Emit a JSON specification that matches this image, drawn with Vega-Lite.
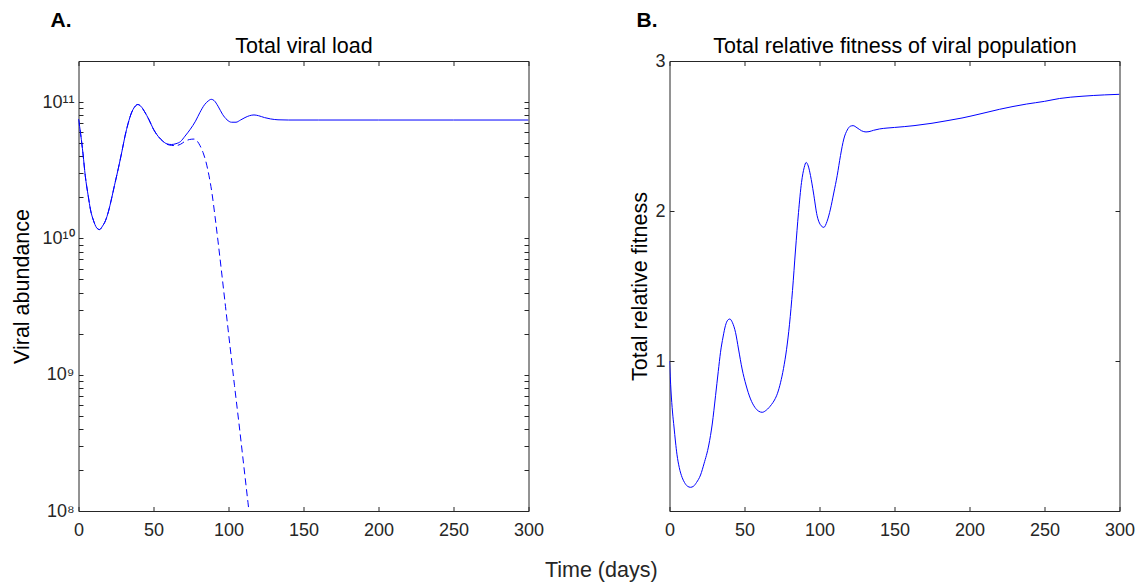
{
  "$schema": "https://vega.github.io/schema/vega-lite/v6.json",
  "padding": {"left": 11.5, "top": 9, "right": 6, "bottom": 2},
  "background": "white",
  "config": {
    "font": "Liberation Sans",
    "view": {"stroke": null},
    "axis": {"grid": false, "domainColor": "#262626", "tickColor": "#262626", "labelColor": "#262626", "titleColor": "#000000", "labelFont": "Liberation Sans", "titleFont": "Liberation Sans", "labelFontSize": 18, "titleFontSize": 21.5, "titleFontWeight": "normal", "tickSize": -4.5, "domainWidth": 1, "tickWidth": 1, "labelFlush": false, "labelOverlap": false},
    "axisX": {"labelPadding": 15},
    "axisY": {"labelPadding": 9},
    "title": {"font": "Liberation Sans", "color": "#000000"}
  },
  "title": {"text": "Time (days)", "orient": "bottom", "anchor": "middle", "fontSize": 21.5, "fontWeight": "normal", "color": "#262626", "dx": 28, "offset": 20},
  "spacing": 85,
  "datasets": {
    "load": [
      {"t": 0, "v": 7.5e10}, {"t": 1.5, "v": 5.75e10}, {"t": 3, "v": 4.17e10}, {"t": 4.5, "v": 2.88e10},
      {"t": 6.5, "v": 2.04e10}, {"t": 8, "v": 1.62e10}, {"t": 10, "v": 1.35e10}, {"t": 12, "v": 1.2e10},
      {"t": 14, "v": 1.16e10}, {"t": 16, "v": 1.23e10}, {"t": 18, "v": 1.35e10}, {"t": 20, "v": 1.58e10},
      {"t": 22, "v": 1.95e10}, {"t": 24, "v": 2.45e10}, {"t": 26.5, "v": 3.24e10}, {"t": 29, "v": 4.37e10},
      {"t": 31, "v": 5.62e10}, {"t": 33, "v": 6.92e10}, {"t": 35.3, "v": 8.32e10}, {"t": 37.5, "v": 9.23e10},
      {"t": 39.5, "v": 9.59e10}, {"t": 41.5, "v": 9.33e10}, {"t": 44, "v": 8.51e10}, {"t": 47, "v": 7.41e10},
      {"t": 50, "v": 6.31e10}, {"t": 53, "v": 5.62e10}, {"t": 56, "v": 5.19e10}, {"t": 59, "v": 4.93e10},
      {"t": 62, "v": 4.88e10}, {"t": 65, "v": 4.95e10}, {"t": 68, "v": 5.13e10}, {"t": 71, "v": 5.62e10},
      {"t": 74.5, "v": 6.31e10}, {"t": 78, "v": 7.24e10}, {"t": 81, "v": 8.41e10}, {"t": 84, "v": 9.55e10},
      {"t": 86.5, "v": 1.019e11}, {"t": 88.5, "v": 1.047e11}, {"t": 90.5, "v": 1.023e11}, {"t": 93, "v": 9.33e10},
      {"t": 96, "v": 8.13e10}, {"t": 99, "v": 7.41e10}, {"t": 102, "v": 7.11e10}, {"t": 105, "v": 7.11e10},
      {"t": 108, "v": 7.38e10}, {"t": 111, "v": 7.69e10}, {"t": 114, "v": 7.94e10}, {"t": 117, "v": 8.04e10},
      {"t": 120, "v": 7.94e10}, {"t": 124, "v": 7.69e10}, {"t": 128, "v": 7.52e10}, {"t": 133, "v": 7.41e10},
      {"t": 140, "v": 7.38e10}, {"t": 160, "v": 7.38e10}, {"t": 200, "v": 7.38e10}, {"t": 250, "v": 7.38e10},
      {"t": 300, "v": 7.38e10}
    ],
    "dashed": [
      {"t": 0, "v": 7.5e10}, {"t": 1.5, "v": 5.75e10}, {"t": 3, "v": 4.17e10}, {"t": 4.5, "v": 2.88e10},
      {"t": 6.5, "v": 2.04e10}, {"t": 8, "v": 1.62e10}, {"t": 10, "v": 1.35e10}, {"t": 12, "v": 1.2e10},
      {"t": 14, "v": 1.16e10}, {"t": 16, "v": 1.23e10}, {"t": 18, "v": 1.35e10}, {"t": 20, "v": 1.58e10},
      {"t": 22, "v": 1.95e10}, {"t": 24, "v": 2.45e10}, {"t": 26.5, "v": 3.24e10}, {"t": 29, "v": 4.37e10},
      {"t": 31, "v": 5.62e10}, {"t": 33, "v": 6.92e10}, {"t": 35.3, "v": 8.32e10}, {"t": 37.5, "v": 9.23e10},
      {"t": 39.5, "v": 9.59e10}, {"t": 41.5, "v": 9.33e10}, {"t": 44, "v": 8.51e10}, {"t": 47, "v": 7.41e10},
      {"t": 50, "v": 6.31e10}, {"t": 53, "v": 5.62e10}, {"t": 56, "v": 5.19e10}, {"t": 59, "v": 4.9e10},
      {"t": 62, "v": 4.81e10}, {"t": 65, "v": 4.79e10}, {"t": 68, "v": 4.9e10}, {"t": 71, "v": 5.15e10},
      {"t": 74, "v": 5.31e10}, {"t": 77, "v": 5.35e10}, {"t": 79, "v": 5.19e10}, {"t": 81, "v": 4.79e10},
      {"t": 83, "v": 4.27e10}, {"t": 85, "v": 3.63e10}, {"t": 87, "v": 2.88e10}, {"t": 89, "v": 2.14e10},
      {"t": 91, "v": 1.45e10}, {"t": 93, "v": 9.55e9}, {"t": 95, "v": 6.17e9}, {"t": 98, "v": 3.16e9},
      {"t": 101, "v": 1.62e9}, {"t": 104, "v": 8.32e8}, {"t": 107, "v": 4.37e8}, {"t": 110, "v": 2.24e8},
      {"t": 113, "v": 1.15e8}, {"t": 115, "v": 7.4e7}
    ],
    "fit": [
      {"t": 0, "f": 1.0}, {"t": 1, "f": 0.8}, {"t": 2, "f": 0.66}, {"t": 3, "f": 0.56}, {"t": 4, "f": 0.46},
      {"t": 5, "f": 0.375}, {"t": 6.5, "f": 0.29}, {"t": 8.4, "f": 0.224}, {"t": 10, "f": 0.19}, {"t": 12, "f": 0.165},
      {"t": 14, "f": 0.158}, {"t": 16, "f": 0.165}, {"t": 18, "f": 0.19}, {"t": 20.7, "f": 0.24}, {"t": 23, "f": 0.315},
      {"t": 26.2, "f": 0.44}, {"t": 28.5, "f": 0.58}, {"t": 30.7, "f": 0.769}, {"t": 32.5, "f": 0.93}, {"t": 34, "f": 1.058},
      {"t": 35.7, "f": 1.16}, {"t": 37.3, "f": 1.236}, {"t": 38.8, "f": 1.272}, {"t": 40.2, "f": 1.28}, {"t": 42, "f": 1.255},
      {"t": 44, "f": 1.191}, {"t": 46, "f": 1.08}, {"t": 48.4, "f": 0.947}, {"t": 51, "f": 0.84}, {"t": 54, "f": 0.747},
      {"t": 57, "f": 0.69}, {"t": 59.5, "f": 0.665}, {"t": 61.8, "f": 0.658}, {"t": 64.5, "f": 0.672}, {"t": 68, "f": 0.71},
      {"t": 70, "f": 0.74}, {"t": 72, "f": 0.785}, {"t": 74, "f": 0.855}, {"t": 76, "f": 0.95}, {"t": 78, "f": 1.075},
      {"t": 80, "f": 1.245}, {"t": 82, "f": 1.47}, {"t": 84, "f": 1.74}, {"t": 86, "f": 1.99}, {"t": 88, "f": 2.19},
      {"t": 89.8, "f": 2.29}, {"t": 91.1, "f": 2.324}, {"t": 92.5, "f": 2.3}, {"t": 94, "f": 2.236}, {"t": 96, "f": 2.12},
      {"t": 98.4, "f": 1.969}, {"t": 100.5, "f": 1.91}, {"t": 102.9, "f": 1.891}, {"t": 105, "f": 1.93}, {"t": 107.3, "f": 2.013},
      {"t": 109.5, "f": 2.12}, {"t": 111.8, "f": 2.236}, {"t": 114, "f": 2.37}, {"t": 116.2, "f": 2.48}, {"t": 118.5, "f": 2.54},
      {"t": 120.5, "f": 2.565}, {"t": 122.4, "f": 2.569}, {"t": 125, "f": 2.555}, {"t": 128, "f": 2.535}, {"t": 131, "f": 2.527},
      {"t": 133, "f": 2.529}, {"t": 136, "f": 2.538}, {"t": 140, "f": 2.547}, {"t": 145, "f": 2.553}, {"t": 150, "f": 2.557},
      {"t": 163, "f": 2.569}, {"t": 175, "f": 2.585}, {"t": 185, "f": 2.602}, {"t": 195, "f": 2.62}, {"t": 207, "f": 2.647},
      {"t": 220, "f": 2.678}, {"t": 238, "f": 2.713}, {"t": 250, "f": 2.731}, {"t": 260, "f": 2.75}, {"t": 275, "f": 2.765},
      {"t": 290, "f": 2.774}, {"t": 300, "f": 2.778}
    ]
  },
  "hconcat": [
    {
      "width": 450,
      "height": 450,
      "title": {"text": "A.", "anchor": "start", "frame": "group", "dx": -28, "fontSize": 21, "fontWeight": "bold", "offset": 5},
      "layer": [
        {
          "data": {"name": "load"},
          "mark": {"type": "line", "color": "#0000ff", "strokeWidth": 1, "interpolate": "monotone", "clip": true},
          "encoding": {
            "x": {"field": "t", "type": "quantitative", "scale": {"domain": [0, 300], "nice": false},
                  "axis": {"orient": "bottom", "title": null, "values": [0, 50, 100, 150, 200, 250, 300]}},
            "y": {"field": "v", "type": "quantitative", "scale": {"type": "log", "domain": [1e8, 2e11], "nice": false},
                  "axis": {"orient": "left", "title": "Viral abundance", "titlePadding": 8,
                           "values": [1e8, 2e8, 3e8, 4e8, 5e8, 6e8, 7e8, 8e8, 9e8, 1e9, 2e9, 3e9, 4e9, 5e9, 6e9, 7e9, 8e9, 9e9, 1e10, 2e10, 3e10, 4e10, 5e10, 6e10, 7e10, 8e10, 9e10, 1e11, 2e11],
                           "labelExpr": "datum.value == 1e8 ? '10⁸' : datum.value == 1e9 ? '10⁹' : datum.value == 1e10 ? '10¹⁰' : datum.value == 1e11 ? '10¹¹' : ''"}}
          }
        },
        {
          "data": {"name": "dashed"},
          "mark": {"type": "line", "color": "#0000ff", "strokeWidth": 1, "strokeDash": [7, 4], "interpolate": "monotone", "clip": true},
          "encoding": {
            "x": {"field": "t", "type": "quantitative", "scale": {"domain": [0, 300], "nice": false},
                  "axis": {"orient": "top", "labels": false, "title": "Total viral load", "titlePadding": 3, "values": [0, 50, 100, 150, 200, 250, 300]}},
            "y": {"field": "v", "type": "quantitative", "scale": {"type": "log", "domain": [1e8, 2e11], "nice": false},
                  "axis": {"orient": "right", "labels": false, "title": null,
                           "values": [1e8, 2e8, 3e8, 4e8, 5e8, 6e8, 7e8, 8e8, 9e8, 1e9, 2e9, 3e9, 4e9, 5e9, 6e9, 7e9, 8e9, 9e9, 1e10, 2e10, 3e10, 4e10, 5e10, 6e10, 7e10, 8e10, 9e10, 1e11, 2e11]}}
          }
        }
      ],
      "resolve": {"axis": {"x": "independent", "y": "independent"}}
    },
    {
      "width": 450,
      "height": 450,
      "title": {"text": "B.", "anchor": "start", "frame": "group", "dx": -33, "fontSize": 21, "fontWeight": "bold", "offset": 5},
      "data": {"name": "fit"},
      "layer": [
        {
          "mark": {"type": "line", "color": "#0000ff", "strokeWidth": 1, "interpolate": "monotone", "clip": true},
          "encoding": {
            "x": {"field": "t", "type": "quantitative", "scale": {"domain": [0, 300], "nice": false},
                  "axis": {"orient": "bottom", "title": null, "values": [0, 50, 100, 150, 200, 250, 300]}},
            "y": {"field": "f", "type": "quantitative", "scale": {"domain": [0, 3], "nice": false},
                  "axis": {"orient": "left", "title": "Total relative fitness", "titlePadding": 3, "values": [1, 2, 3]}}
          }
        },
        {
          "mark": {"type": "line", "color": "#0000ff", "strokeWidth": 1, "interpolate": "monotone", "opacity": 0},
          "encoding": {
            "x": {"field": "t", "type": "quantitative", "scale": {"domain": [0, 300], "nice": false},
                  "axis": {"orient": "top", "labels": false, "title": "Total relative fitness of viral population", "titlePadding": 3, "values": [0, 50, 100, 150, 200, 250, 300]}},
            "y": {"field": "f", "type": "quantitative", "scale": {"domain": [0, 3], "nice": false},
                  "axis": {"orient": "right", "labels": false, "title": null, "values": [1, 2, 3]}}
          }
        }
      ],
      "resolve": {"axis": {"x": "independent", "y": "independent"}}
    }
  ]
}
